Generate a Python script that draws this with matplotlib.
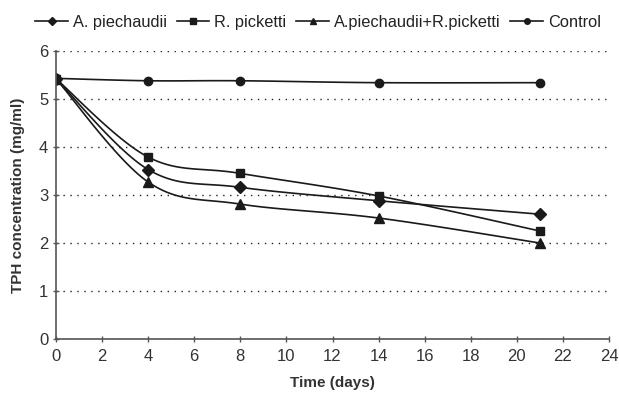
import numpy as np
import matplotlib.pyplot as plt

plt.rcParams['font.family'] = ['Liberation Sans', 'DejaVu Sans']

# Dati
days = [0, 4, 8, 14, 21]
a_piechaudii = [5.42, 3.53, 3.16, 2.88, 2.60]
r_picketti = [5.42, 3.79, 3.45, 2.98, 2.25]
combined = [5.42, 3.27, 2.81, 2.52, 2.00]
control = [5.43, 5.38, 5.38, 5.34, 5.34]

labels = ['A. piechaudii', 'R. picketti', 'A.piechaudii+R.picketti', 'Control']
markers = ['D', 's', '^', 'o']
msizes = [6, 6, 7, 6]
x_ticks = list(range(0, 25, 2))
y_ticks = list(range(0, 7))


def smooth(x, y, n=30):
    # curva liscia tipo Excel (Bezier con punti di controllo Catmull-Rom)
    x = np.asarray(x, float)
    y = np.asarray(y, float)
    px = np.concatenate([[x[0]], x, [x[-1]]])
    py = np.concatenate([[y[0]], y, [y[-1]]])
    t = np.linspace(0, 1, n)
    xs, ys = [], []
    for i in range(1, len(px) - 2):
        p0 = np.array([px[i - 1], py[i - 1]])
        p1 = np.array([px[i], py[i]])
        p2 = np.array([px[i + 1], py[i + 1]])
        p3 = np.array([px[i + 2], py[i + 2]])
        c1 = p1 + (p2 - p0) / 6
        c2 = p2 - (p3 - p1) / 6
        b = ((1 - t) ** 3)[:, None] * p1 + (3 * (1 - t) ** 2 * t)[:, None] * c1 \
            + (3 * (1 - t) * t ** 2)[:, None] * c2 + (t ** 3)[:, None] * p2
        xs.append(b[:, 0])
        ys.append(b[:, 1])
    return np.concatenate(xs), np.concatenate(ys)


fig = plt.figure(figsize=(6.19, 3.96), dpi=100)
ax = fig.add_axes([56 / 619, 1 - 339 / 396, 553 / 619, 288 / 396])

series = [a_piechaudii, r_picketti, combined, control]
for vals, lab, m, ms in zip(series, labels, markers, msizes):
    sx, sy = smooth(days, vals)
    ax.plot(sx, sy, color='#1a1a1a', lw=1.2)
    ax.plot(days, vals, linestyle='none', marker=m, color='#1a1a1a', ms=ms)
    ax.plot([], [], color='#1a1a1a', lw=1.2, marker=m, ms=ms - 2, label=lab)

ax.set_xlim(0, 24)
ax.set_ylim(0, 6)
ax.set_xticks(x_ticks)
ax.set_yticks(y_ticks)
ax.yaxis.grid(True, linestyle=(0, (1, 4)), color='#222222', lw=1)
ax.set_axisbelow(True)
for s in ['top', 'right']:
    ax.spines[s].set_visible(False)
for s in ['left', 'bottom']:
    ax.spines[s].set_color('#555555')
    ax.spines[s].set_linewidth(1.2)
ax.tick_params(direction='inout', length=5, width=1, color='#555555',
               labelsize=12, colors='#333333')
ax.tick_params(axis='x', pad=5)
ax.tick_params(axis='y', pad=3)

ax.set_xlabel('Time (days)', fontweight='bold', fontsize=11, color='#333333', labelpad=8)
ax.set_ylabel('TPH concentration (mg/ml)', fontweight='bold', fontsize=11, color='#333333', labelpad=10)

fig.legend(loc='upper center', bbox_to_anchor=(0.514, 1.0), ncol=4, frameon=False,
           fontsize=11.8, handlelength=2.0, handletextpad=0.3, columnspacing=0.6,
           labelcolor='#222222')

fig.savefig('out.png', dpi=100)
